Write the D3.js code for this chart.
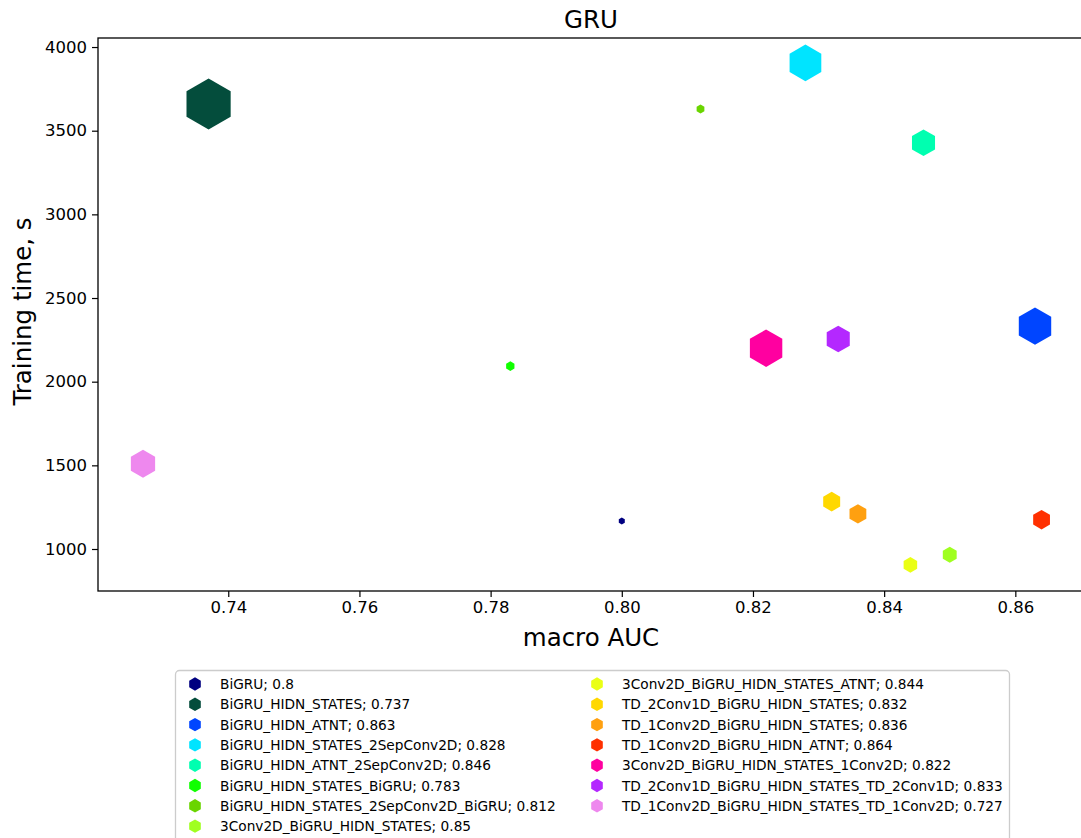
<!DOCTYPE html>
<html lang="en">
<head>
    <meta charset="UTF-8">
    <title>GRU</title>
    <script src="https://d3js.org/d3.v7.min.js"></script>
    <style>
        body { margin: 0; background: #fff; }
        text { font-family: "DejaVu Sans", sans-serif; fill: #000; }
    </style>
</head>
<body>

<div id="chart"></div>

<script>
    // Model names, macro AUC, training time and marker size (relative)
    const models = [
        "BiGRU", "BiGRU_HIDN_STATES", "BiGRU_HIDN_ATNT", "BiGRU_HIDN_STATES_2SepConv2D",
        "BiGRU_HIDN_ATNT_2SepConv2D", "BiGRU_HIDN_STATES_BiGRU", "BiGRU_HIDN_STATES_2SepConv2D_BiGRU",
        "3Conv2D_BiGRU_HIDN_STATES", "3Conv2D_BiGRU_HIDN_STATES_ATNT", "TD_2Conv1D_BiGRU_HIDN_STATES",
        "TD_1Conv2D_BiGRU_HIDN_STATES", "TD_1Conv2D_BiGRU_HIDN_ATNT", "3Conv2D_BiGRU_HIDN_STATES_1Conv2D",
        "TD_2Conv1D_BiGRU_HIDN_STATES_TD_2Conv1D", "TD_1Conv2D_BiGRU_HIDN_STATES_TD_1Conv2D"
    ];
    const auc = [0.8, 0.737, 0.863, 0.828, 0.846, 0.783, 0.812, 0.85, 0.844, 0.832, 0.836, 0.864, 0.822, 0.833, 0.727];
    const trainTime = [1167, 3660, 2332, 3905, 3428, 2093, 3630, 966, 905, 1283, 1210, 1175, 2200, 2255, 1510];
    const markerSize = [12, 650, 350, 335, 177, 23, 20, 64, 61, 96, 94, 94, 350, 177, 196];
    const colors = [
        "#000080", "#044d3c", "#0045ff", "#00e4ff", "#00ffb0", "#10ff00", "#6ad500", "#a0ff20",
        "#eaff15", "#ffd800", "#ffa010", "#ff3000", "#ff00a0", "#b428ff", "#ee88ee"
    ];
    const xTicks = [0.74, 0.76, 0.78, 0.80, 0.82, 0.84, 0.86];
    const yTicks = [1000, 1500, 2000, 2500, 3000, 3500, 4000];

    const width = 1081, height = 838;
    const plot = { left: 98, top: 38, right: 1084, bottom: 591 };

    const x = d3.scaleLinear().domain([0.72014, 0.87047]).range([plot.left, plot.right]);
    const y = d3.scaleLinear().domain([749, 4054]).range([plot.bottom, plot.top]);
    const r = d3.scaleSqrt().domain([0, 650]).range([0, 25.5]);

    // pointy-top hexagon, size = circumradius squared
    const hexagon = {
        draw(ctx, size) {
            const rad = Math.sqrt(size);
            for (let k = 0; k < 6; k++) {
                const a = (-90 + 60 * k) * Math.PI / 180;
                const px = rad * Math.cos(a), py = rad * Math.sin(a);
                if (k === 0) ctx.moveTo(px, py); else ctx.lineTo(px, py);
            }
            ctx.closePath();
        }
    };
    const symbol = d3.symbol().type(hexagon);

    const data = models.map((m, i) => ({
        name: m, auc: auc[i], time: trainTime[i], size: markerSize[i], color: colors[i]
    }));

    const svg = d3.select("#chart")
        .append("svg")
        .attr("width", width)
        .attr("height", height);

    svg.append("defs").append("clipPath").attr("id", "clip")
        .append("rect")
        .attr("x", plot.left).attr("y", plot.top)
        .attr("width", plot.right - plot.left).attr("height", plot.bottom - plot.top);

    // points
    svg.append("g").attr("clip-path", "url(#clip)")
        .selectAll("path")
        .data(data)
        .enter()
        .append("path")
        .attr("d", d => symbol.size(r(d.size) ** 2)())
        .attr("transform", d => `translate(${x(d.auc)},${y(d.time)})`)
        .attr("fill", d => d.color);

    // axes
    const xAxis = svg.append("g")
        .attr("transform", `translate(0,${plot.bottom})`)
        .call(d3.axisBottom(x).tickValues(xTicks).tickFormat(d3.format(".2f")).tickSize(6).tickPadding(4).tickSizeOuter(0));
    const yAxis = svg.append("g")
        .attr("transform", `translate(${plot.left},0)`)
        .call(d3.axisLeft(y).tickValues(yTicks).tickFormat(d3.format("d")).tickSize(6).tickPadding(5).tickSizeOuter(0));
    [xAxis, yAxis].forEach(g => {
        g.selectAll("text").style("font-size", "16.5px").style("font-family", "DejaVu Sans, sans-serif");
        g.selectAll("line").attr("stroke", "#000").attr("stroke-width", 1.2);
        g.select(".domain").remove();
    });

    // spines
    svg.append("rect")
        .attr("x", plot.left).attr("y", plot.top)
        .attr("width", plot.right - plot.left).attr("height", plot.bottom - plot.top)
        .attr("fill", "none").attr("stroke", "#000").attr("stroke-width", 1.3);

    // labels
    svg.append("text")
        .attr("x", (plot.left + plot.right) / 2).attr("y", 28)
        .attr("text-anchor", "middle").style("font-size", "24.5px")
        .text("GRU");
    svg.append("text")
        .attr("x", (plot.left + plot.right) / 2).attr("y", 646)
        .attr("text-anchor", "middle").style("font-size", "24.5px")
        .text("macro AUC");
    svg.append("text")
        .attr("transform", `translate(31,${(plot.top + plot.bottom) / 2 - 3}) rotate(-90)`)
        .attr("text-anchor", "middle").style("font-size", "24.5px")
        .text("Training time, s");

    // legend
    const legend = svg.append("g");
    legend.append("rect")
        .attr("x", 175.5).attr("y", 670.5)
        .attr("width", 834).attr("height", 180)
        .attr("rx", 4)
        .attr("fill", "#fff").attr("stroke", "#cccccc").attr("stroke-width", 1.3);

    const perCol = 8;
    const items = legend.selectAll("g.item")
        .data(data)
        .enter()
        .append("g")
        .attr("class", "item")
        .attr("transform", (d, i) => {
            const col = Math.floor(i / perCol), row = i % perCol;
            return `translate(${col === 0 ? 195 : 597},${684 + row * 20.3})`;
        });
    items.append("path")
        .attr("d", symbol.size(6.7 * 6.7)())
        .attr("fill", d => d.color);
    items.append("text")
        .attr("x", 25).attr("y", 5)
        .style("font-size", "13.7px")
        .text(d => `${d.name}; ${d.auc}`);
</script>

</body>
</html>
